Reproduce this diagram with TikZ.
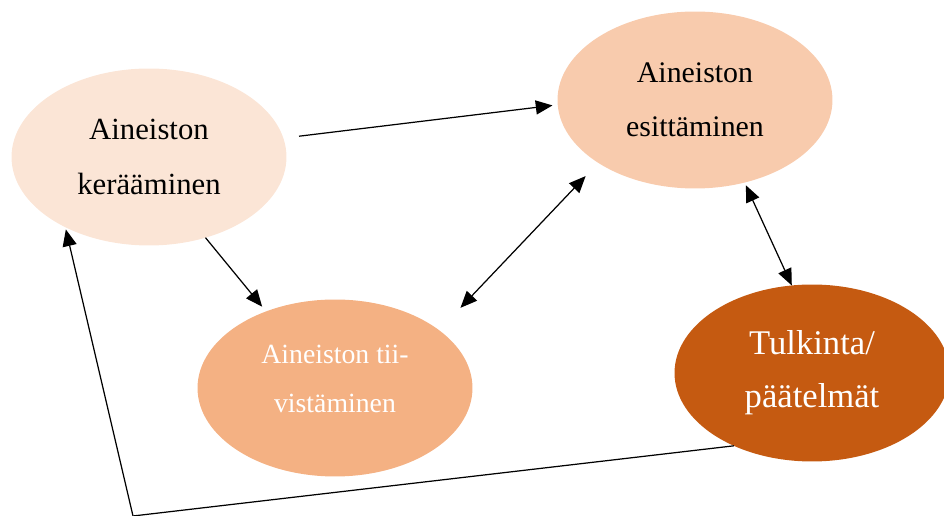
\documentclass[tikz,border=0pt]{standalone}
\usepackage{fontspec}
\setmainfont{Liberation Serif}
\usetikzlibrary{arrows.meta,shapes.geometric}
\definecolor{keruu}{HTML}{FBE5D6}
\definecolor{esitys}{HTML}{F8CBAD}
\definecolor{tiivistys}{HTML}{F4B183}
\definecolor{tulkinta}{HTML}{C55A11}
\begin{document}
\begin{tikzpicture}[x=0.02cm, y=-0.02cm,
    vaihe/.style={ellipse, minimum width=5.5cm, minimum height=3.54cm, inner sep=0pt, outer sep=0pt, align=center},
    nuoli/.style={-{Triangle[length=9.5pt,width=8pt]}, line width=0.7pt},
    kaksi/.style={{Triangle[length=9.5pt,width=8pt]}-{Triangle[length=9.5pt,width=8pt]}, line width=0.7pt}]
    \useasboundingbox (0,0) rectangle (944,516);

    % Ellipses
    \node[vaihe, fill=keruu, font=\fontsize{17.5}{31}\selectfont] (ker) at (149,157) {Aineiston\\kerääminen};
    \node[vaihe, fill=esitys, font=\fontsize{17}{31}\selectfont] (esit) at (695,100) {Aineiston\\esittäminen};
    \node[vaihe, fill=tiivistys, text=white, text depth=10pt, font=\fontsize{15.8}{28}\selectfont] (tii) at (335,388) {Aineiston tii-\\vistäminen};
    \node[vaihe, fill=tulkinta, text=white, font=\fontsize{19.7}{30}\selectfont] (tulk) at (812,373) {Tulkinta/\\päätelmät};

    % Arrows
    \draw[nuoli, shorten <=9pt, shorten >=3pt] (ker.8) -- (esit.182);
    \draw[nuoli, shorten >=3.5pt] (ker.-55) -- (tii.132);
    \draw[kaksi, shorten <=17.6pt, shorten >=10.4pt] (tii.29.6) -- (esit.213.6);
    \draw[kaksi, shorten <=1.7pt] (esit.-59.7) -- (tulk.103.1);

    % Feedback line
    \coordinate (knee) at (133,516);
    \draw[nuoli, shorten >=1.3pt] (tulk.223) -- (knee) -- (ker.220.6);
\end{tikzpicture}
\end{document}
